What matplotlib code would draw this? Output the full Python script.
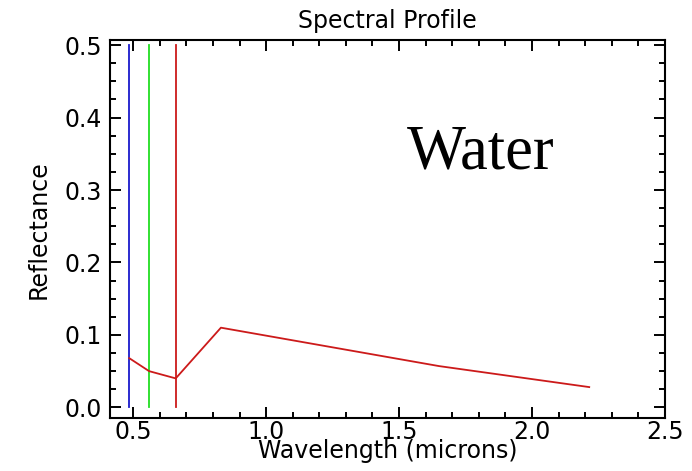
## spectral profile of water, redrawn with matplotlib
import matplotlib.pyplot as plt
from matplotlib.ticker import MultipleLocator

# wavelength (microns) and reflectance
wavelength = [0.485, 0.56, 0.66, 0.83, 1.65, 2.215]
reflectance = [0.068, 0.050, 0.040, 0.110, 0.057, 0.028]

# band markers (blue, green, red)
band_centers = [0.485, 0.56, 0.66]
band_colors = ['#1a1acc', '#22dd22', '#cc1a1a']

fig = plt.figure(figsize=(6.92, 4.71), dpi=100)
ax = fig.add_axes([0.159, 0.112, 0.802, 0.803])

for xc, col in zip(band_centers, band_colors):
    ax.plot([xc, xc], [0.0, 0.5], color=col, lw=1.3)

ax.plot(wavelength, reflectance, color='#cc1a1a', lw=1.3)

ax.set_xlim(0.413, 2.5)
ax.set_ylim(-0.015, 0.507)

ax.xaxis.set_major_locator(MultipleLocator(0.5))
ax.xaxis.set_minor_locator(MultipleLocator(0.1))
ax.yaxis.set_major_locator(MultipleLocator(0.1))
ax.yaxis.set_minor_locator(MultipleLocator(0.025))
ax.xaxis.set_major_formatter('{x:.1f}')
ax.yaxis.set_major_formatter('{x:.1f}')

ax.tick_params(which='both', direction='in', top=True, right=True,
               width=1.4, labelsize=17)
ax.tick_params(which='major', length=8)
ax.tick_params(which='minor', length=4)
ax.tick_params(axis='x', pad=1)
ax.tick_params(axis='y', pad=6)
for sp in ax.spines.values():
    sp.set_linewidth(1.5)

ax.set_title('Spectral Profile', fontsize=17, pad=9)
ax.set_xlabel('Wavelength (microns)', fontsize=17, labelpad=-3)
ax.set_ylabel('Reflectance', fontsize=17, labelpad=10)

ax.text(1.806, 0.35, 'Water', family='Liberation Serif', fontsize=45,
        ha='center', va='center')

plt.savefig('out.png', dpi=100)
